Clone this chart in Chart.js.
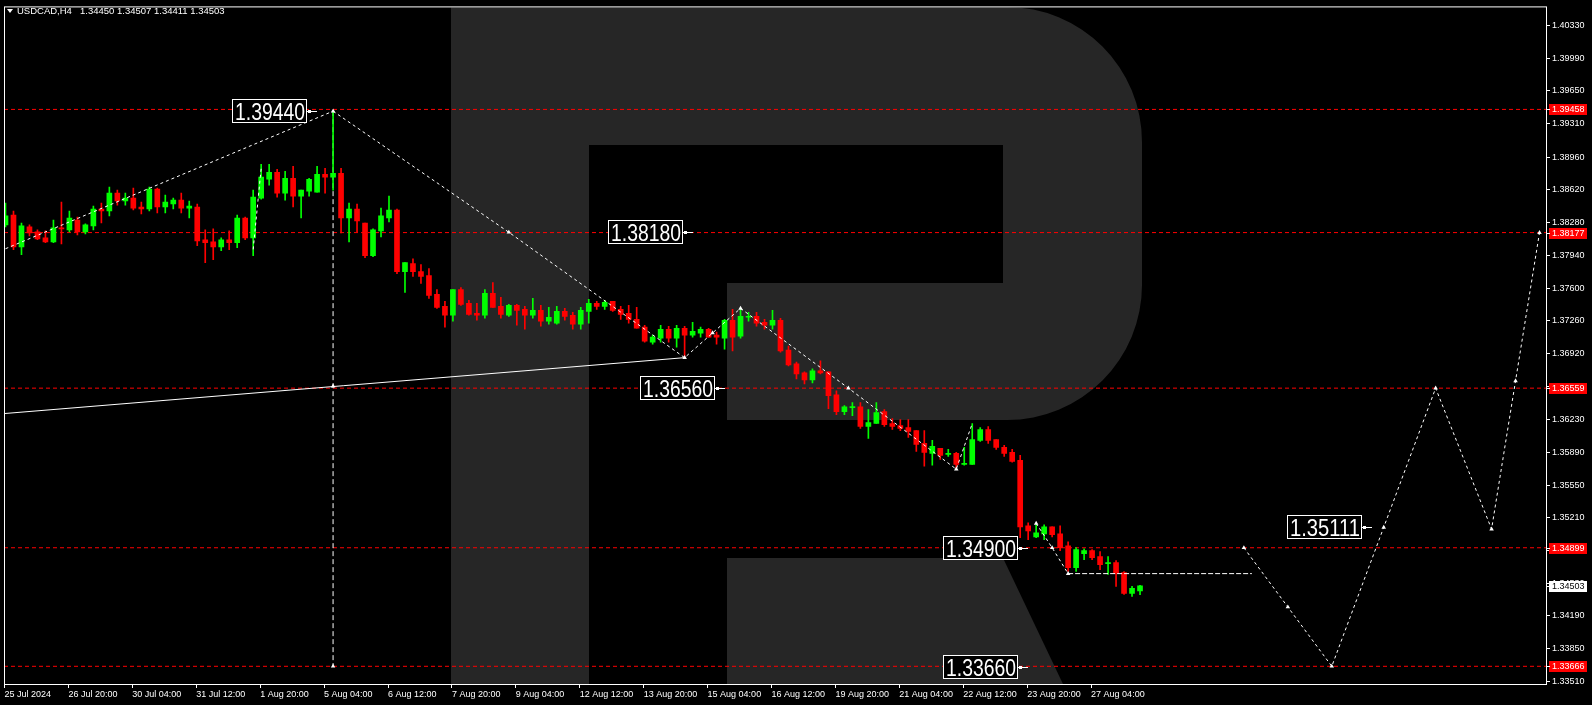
<!DOCTYPE html>
<html><head><meta charset="utf-8">
<script src="https://cdn.jsdelivr.net/npm/chart.js@4.4.1/dist/chart.umd.min.js"></script>
<style>html,body{margin:0;padding:0;background:#000;overflow:hidden}canvas{display:block}</style>
</head><body>
<canvas id="c" width="1592" height="705"></canvas>
<script>
// ---------- DATA ----------
const symbolTitle = 'USDCAD,H4';
const lastQuote = '1.34450 1.34507 1.34411 1.34503';
const dateLabels = ['25 Jul 2024','26 Jul 20:00','30 Jul 04:00','31 Jul 12:00','1 Aug 20:00','5 Aug 04:00',
  '6 Aug 12:00','7 Aug 20:00','9 Aug 04:00','12 Aug 12:00','13 Aug 20:00','15 Aug 04:00','16 Aug 12:00',
  '19 Aug 20:00','21 Aug 04:00','22 Aug 12:00','23 Aug 20:00','27 Aug 04:00'];
const priceTicks = [1.40330,1.39990,1.39650,1.39310,1.38960,1.38620,1.38280,1.37940,1.37600,1.37260,1.36920,
  1.36580,1.36230,1.35890,1.35550,1.35210,1.34870,1.34530,1.34190,1.33850,1.33510];

const opens = [1.38257,1.38360,1.38029,1.38236,1.38184,1.38122,1.38081,1.38226,1.38205,1.38308,
1.38184,1.38246,1.38422,1.38401,1.38587,1.38505,1.38536,1.38443,1.38422,1.38629,
1.38443,1.38474,1.38515,1.38432,1.38443,1.38102,1.38081,1.38029,1.38102,1.38071,
1.38329,1.38122,1.38536,1.38732,1.38804,1.38587,1.38742,1.38556,1.38608,1.38598,
1.38784,1.38753,1.38794,1.38329,1.38422,1.38277,1.37936,1.38195,1.38329,1.38412,
1.37771,1.37854,1.37771,1.37730,1.37534,1.37410,1.37317,1.37585,1.37441,1.37337,
1.37317,1.37544,1.37410,1.37317,1.37420,1.37379,1.37317,1.37368,1.37255,1.37234,
1.37358,1.37317,1.37224,1.37358,1.37441,1.37410,1.37461,1.37379,1.37337,1.37275,
1.37193,1.37038,1.37079,1.37172,1.37079,1.37182,1.37110,1.37131,1.37172,1.37110,
1.37079,1.37265,1.37100,1.37296,1.37306,1.37244,1.37213,1.37265,1.36955,1.36811,
1.36718,1.36645,1.36738,1.36728,1.36490,1.36315,1.36356,1.36366,1.36160,1.36191,
1.36315,1.36191,1.36170,1.36149,1.36118,1.35984,1.35881,1.35932,1.35871,1.35881,
1.35767,1.35767,1.36015,1.36129,1.36025,1.35943,1.35891,1.35809,1.35127,1.35013,
1.35044,1.35116,1.35044,1.34920,1.34693,1.34838,1.34869,1.34807,1.34734,1.34745,
1.34641,1.34424,1.34450];
const highs = [1.38484,1.38401,1.38277,1.38257,1.38205,1.38195,1.38308,1.38494,1.38401,1.38339,
1.38267,1.38453,1.38484,1.38649,1.38618,1.38587,1.38639,1.38494,1.38649,1.38639,
1.38567,1.38536,1.38587,1.38505,1.38474,1.38205,1.38215,1.38122,1.38195,1.38360,
1.38339,1.38618,1.38887,1.38887,1.38835,1.38815,1.38866,1.38618,1.38742,1.38866,
1.38846,1.39440,1.38846,1.38484,1.38474,1.38277,1.38215,1.38432,1.38556,1.38422,
1.37864,1.37905,1.37843,1.37802,1.37585,1.37461,1.37585,1.37606,1.37472,1.37441,
1.37585,1.37658,1.37503,1.37430,1.37430,1.37410,1.37492,1.37420,1.37399,1.37410,
1.37389,1.37348,1.37399,1.37482,1.37461,1.37472,1.37461,1.37410,1.37420,1.37399,
1.37213,1.37110,1.37213,1.37203,1.37213,1.37203,1.37244,1.37193,1.37182,1.37141,
1.37275,1.37379,1.37389,1.37348,1.37348,1.37275,1.37368,1.37286,1.36996,1.36831,
1.36728,1.36759,1.36842,1.36728,1.36532,1.36377,1.36408,1.36408,1.36335,1.36408,
1.36335,1.36242,1.36232,1.36232,1.36118,1.36118,1.36015,1.35932,1.35922,1.35891,
1.35943,1.36191,1.36149,1.36160,1.36025,1.35963,1.35922,1.35860,1.35158,1.35137,
1.35137,1.35116,1.35127,1.34961,1.34900,1.34889,1.34879,1.34858,1.34807,1.34765,
1.34652,1.34497,1.34507];
const lows = [1.38236,1.37998,1.37947,1.38143,1.38102,1.38071,1.38071,1.38060,1.38184,1.38153,
1.38164,1.38205,1.38277,1.38350,1.38463,1.38463,1.38412,1.38370,1.38401,1.38381,
1.38381,1.38422,1.38381,1.38329,1.38040,1.37864,1.37895,1.37988,1.37998,1.38019,
1.38102,1.37936,1.38525,1.38670,1.38546,1.38515,1.38443,1.38329,1.38556,1.38598,
1.38587,1.38618,1.38174,1.38081,1.38184,1.37916,1.37926,1.38133,1.38288,1.37750,
1.37554,1.37720,1.37647,1.37492,1.37389,1.37193,1.37255,1.37420,1.37317,1.37265,
1.37286,1.37399,1.37286,1.37306,1.37213,1.37172,1.37286,1.37203,1.37224,1.37224,
1.37265,1.37172,1.37172,1.37234,1.37379,1.37379,1.37358,1.37275,1.37234,1.37182,
1.37038,1.37017,1.37038,1.37038,1.36986,1.36873,1.37089,1.37089,1.37089,1.37017,
1.36965,1.36945,1.37079,1.37255,1.37203,1.37172,1.37172,1.36934,1.36790,1.36656,
1.36604,1.36614,1.36707,1.36346,1.36284,1.36284,1.36273,1.36139,1.36036,1.36191,
1.36160,1.36129,1.36118,1.36046,1.35901,1.35747,1.35757,1.35819,1.35850,1.35716,
1.35757,1.35767,1.36005,1.35984,1.35922,1.35850,1.35788,1.35003,1.34982,1.35003,
1.34982,1.35013,1.34869,1.34652,1.34652,1.34776,1.34776,1.34672,1.34621,1.34497,
1.34414,1.34393,1.34411];
const closes = [1.38350,1.38029,1.38246,1.38174,1.38112,1.38081,1.38226,1.38215,1.38329,1.38184,
1.38257,1.38422,1.38401,1.38587,1.38505,1.38536,1.38432,1.38422,1.38629,1.38443,
1.38494,1.38515,1.38432,1.38453,1.38091,1.38071,1.38029,1.38102,1.38071,1.38329,
1.38122,1.38546,1.38753,1.38804,1.38587,1.38742,1.38556,1.38618,1.38732,1.38784,
1.38753,1.38794,1.38329,1.38422,1.38298,1.37936,1.38205,1.38350,1.38412,1.37771,
1.37864,1.37771,1.37720,1.37523,1.37399,1.37317,1.37585,1.37430,1.37327,1.37317,
1.37544,1.37399,1.37327,1.37420,1.37368,1.37317,1.37368,1.37255,1.37296,1.37358,
1.37306,1.37224,1.37368,1.37441,1.37410,1.37451,1.37368,1.37327,1.37275,1.37182,
1.37048,1.37089,1.37172,1.37079,1.37182,1.37110,1.37151,1.37172,1.37089,1.37089,
1.37265,1.37089,1.37306,1.37306,1.37234,1.37213,1.37265,1.36945,1.36800,1.36707,
1.36645,1.36738,1.36718,1.36480,1.36315,1.36366,1.36366,1.36160,1.36201,1.36304,
1.36180,1.36160,1.36139,1.36108,1.35974,1.35891,1.35953,1.35860,1.35881,1.35767,
1.35778,1.36025,1.36129,1.36015,1.35943,1.35881,1.35798,1.35116,1.35075,1.35054,
1.35116,1.35034,1.34900,1.34693,1.34879,1.34869,1.34796,1.34724,1.34745,1.34631,
1.34424,1.34476,1.34503];

const levelPrices = [1.39458, 1.38177, 1.36559, 1.34899, 1.33666];
const currentPrice = 1.34503;

// wave / forecast drawings (x = bar number, y = price)
const riseX = [0, 41],            riseY = [1.38009, 1.39440];
const spikeX = [31, 32],          spikeY = [1.38002, 1.38846];
const waveX = [41, 63, 85, 88.5, 92, 105.5, 119, 121];
const waveY = [1.39440, 1.38180, 1.36876, 1.37133, 1.37389, 1.36559, 1.35716, 1.36191];
const lateX = [129, 131, 133],    lateY = [1.35153, 1.34899, 1.34630];
const baseX = [133, 156],         baseY = [1.34630, 1.34630];
const forecastX = [155, 160.5, 166, 172.5, 179, 186, 189, 192];
const forecastY = [1.34899, 1.34283, 1.33666, 1.35111, 1.36559, 1.35093, 1.36635, 1.38177];
const vertX = [41, 41],           vertY = [1.39440, 1.33666];
const trendX = [-1, 85],          trendY = [1.36289, 1.36876];
const markerX = [41, 63, 85, 88.5, 92, 105.5, 119, 41, 41, 129, 131, 133, 155, 160.5, 166, 172.5, 179, 186, 189, 192];
const markerY = [1.39440, 1.38180, 1.36876, 1.37133, 1.37389, 1.36559, 1.35716, 1.36580, 1.33666,
  1.35153, 1.34899, 1.34630, 1.34899, 1.34283, 1.33666, 1.35111, 1.36559, 1.35093, 1.36635, 1.38177];

const boxTexts = ['1.39440','1.38180','1.36560','1.34900','1.33660','1.35111'];
const boxX = [39, 86, 90, 128, 128, 171];
const boxY = [1.39440, 1.38180, 1.36560, 1.34900, 1.33660, 1.35111];

// ---------- CHART ----------
const BULL = '#00ff00', BEAR = '#ff0000';
const X_MIN = -0.1875, X_MAX = 192.8125, Y_MIN = 1.33482, Y_MAX = 1.40519;
const FONT = '"Liberation Sans", Arial, sans-serif';
const bars = opens.map((_, i) => i);
const colors = bars.map(i => closes[i] >= opens[i] ? BULL : BEAR);
const pts = (xs, ys) => xs.map((x, i) => ({x, y: ys[i]}));

function lineDs(xs, ys, dash, order) {
  return {type:'line', data: pts(xs, ys), borderColor:'#ffffff', borderWidth:1, borderDash: dash,
    pointRadius:0, fill:false, tension:0, order: order};
}

const datasets = [
  {type:'bar', data: bars.map(i => ({x:i, y:[lows[i], highs[i]]})), backgroundColor: colors,
   barThickness:1, grouped:false, borderWidth:0, order:3},
  {type:'bar', data: bars.map(i => ({x:i, y:[opens[i], closes[i]]})), backgroundColor: colors,
   barThickness:5, grouped:false, borderWidth:0, minBarLength:1, order:2},
  ...levelPrices.map(v => ({type:'line', data: pts([X_MIN, X_MAX], [v, v]), borderColor:'#ff0000',
    borderWidth:1, borderDash:[4,3], pointRadius:0, order:6})),
  lineDs(trendX, trendY, [], 5),
  lineDs(riseX, riseY, [3,3], 1),
  lineDs(spikeX, spikeY, [3,3], 1),
  lineDs(waveX, waveY, [3,3], 1),
  lineDs(lateX, lateY, [3,3], 1),
  lineDs(baseX, baseY, [5,2], 1),
  lineDs(forecastX, forecastY, [3,3], 1),
  lineDs(vertX, vertY, [5,3], 4),
  {type:'line', data: pts(markerX, markerY), showLine:false, pointStyle:'triangle', pointRadius:2.6,
   pointBackgroundColor:'#ffffff', pointBorderColor:'#ffffff', pointBorderWidth:0, order:0}
];

const overlay = {
  id:'overlay',
  beforeDraw(chart) {
    const ctx = chart.ctx; ctx.save(); ctx.fillStyle = '#000'; ctx.fillRect(0, 0, chart.width, chart.height); ctx.restore();
  },
  beforeDatasetsDraw(chart) {
    const {ctx, chartArea: a} = chart;
    ctx.save();
    ctx.beginPath(); ctx.rect(a.left, a.top, a.right - a.left, a.bottom - a.top); ctx.clip();
    ctx.fillStyle = '#262626';
    // stem
    ctx.fillRect(451, 7, 138, 700);
    // bowl
    ctx.beginPath();
    ctx.moveTo(589, 7); ctx.lineTo(1007, 7);
    ctx.arc(1007, 142, 135, -Math.PI / 2, 0);
    ctx.lineTo(1142, 285);
    ctx.arc(1007, 285, 135, 0, Math.PI / 2);
    ctx.lineTo(727, 420); ctx.lineTo(727, 283); ctx.lineTo(1003, 283); ctx.lineTo(1003, 145); ctx.lineTo(589, 145);
    ctx.closePath(); ctx.fill();
    // leg
    ctx.beginPath();
    ctx.moveTo(727, 558); ctx.lineTo(1003, 558); ctx.lineTo(1003 + 160 * 0.476, 718); ctx.lineTo(727, 718);
    ctx.closePath(); ctx.fill();
    ctx.restore();
  },
  afterDraw(chart) {
    const {ctx, chartArea: a, scales} = chart;
    const xs = scales.x, ys = scales.y;
    ctx.save();
    // frame
    ctx.strokeStyle = '#fff'; ctx.lineWidth = 1;
    ctx.strokeRect(a.left + 0.5, a.top - 0.5, a.right - a.left, a.bottom - a.top + 1);
    // header
    ctx.fillStyle = '#fff';
    ctx.beginPath(); ctx.moveTo(7, 9); ctx.lineTo(13, 9); ctx.lineTo(10, 13); ctx.closePath(); ctx.fill();
    ctx.font = '9.5px ' + FONT; ctx.textBaseline = 'alphabetic'; ctx.textAlign = 'left';
    ctx.fillText(symbolTitle, 17, 14);
    ctx.fillText(lastQuote, 80, 14);
    // price label boxes
    boxTexts.forEach((t, i) => {
      const px = Math.round(xs.getPixelForValue(boxX[i]));
      const py = Math.round(ys.getPixelForValue(boxY[i]));
      const bw = 75, bh = 24, bx = px - 10 - bw, by = py - 12;
      ctx.fillStyle = '#000'; ctx.fillRect(bx, by, bw, bh);
      ctx.strokeStyle = '#fff'; ctx.strokeRect(bx + 0.5, by + 0.5, bw - 1, bh - 1);
      ctx.beginPath(); ctx.moveTo(bx + bw, py + 0.5); ctx.lineTo(px, py + 0.5); ctx.stroke();
      ctx.fillStyle = '#fff'; ctx.fillRect(bx + bw + 1, py - 1, 3, 3);
      ctx.font = '23px ' + FONT;
      const w = ctx.measureText(t).width;
      ctx.save(); ctx.translate(bx + 3, by + 21); ctx.scale(70 / w, 1);
      ctx.fillText(t, 0, 0); ctx.restore();
    });
    // right axis price tags
    ctx.font = '9px ' + FONT; ctx.textBaseline = 'middle';
    const tag = (v, bg, fg) => {
      const py = Math.round(ys.getPixelForValue(v));
      ctx.fillStyle = bg; ctx.fillRect(a.right + 3, py - 5, 38, 11);
      ctx.fillStyle = fg; ctx.fillText(v.toFixed(5), a.right + 6, py + 0.5);
      ctx.fillStyle = '#fff'; ctx.fillRect(a.right, py, 4, 1);
    };
    levelPrices.forEach(v => tag(v, '#ff0000', '#fff'));
    tag(currentPrice, '#fff', '#000');
    ctx.restore();
  }
};

new Chart(document.getElementById('c'), {
  type: 'bar',
  data: { datasets },
  options: {
    responsive: false, animation: false, devicePixelRatio: 1,
    layout: { padding: { left: 2, top: 3, right: 0, bottom: 0 } },
    plugins: { legend: { display: false }, tooltip: { enabled: false } },
    scales: {
      x: {
        type: 'linear', min: X_MIN, max: X_MAX, offset: false,
        grid: { drawOnChartArea: false, drawTicks: true, tickLength: 4, color: '#fff', offset: false },
        border: { display: false },
        afterBuildTicks: s => { s.ticks = dateLabels.map((_, k) => ({ value: k * 8 - 0.125 })); },
        afterFit: s => { s.height = 21; },
        ticks: { autoSkip: false, maxRotation: 0, align: 'start', padding: 1, color: '#fff',
          font: { family: FONT, size: 9 }, callback: (v, i) => dateLabels[i] }
      },
      y: {
        type: 'linear', position: 'right', min: Y_MIN, max: Y_MAX,
        grid: { drawOnChartArea: false, drawTicks: true, tickLength: 4, color: '#fff' },
        border: { display: false },
        afterBuildTicks: s => { s.ticks = priceTicks.map(v => ({ value: v })); },
        afterFit: s => { s.width = 46; },
        ticks: { autoSkip: false, padding: 2, color: '#fff', font: { family: FONT, size: 9 },
          callback: v => Number(v).toFixed(5) }
      }
    }
  },
  plugins: [overlay]
});
</script>
</body></html>
